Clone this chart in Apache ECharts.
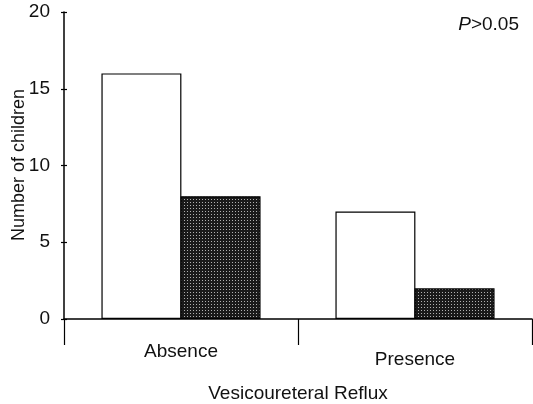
<!DOCTYPE html>
<html><head><meta charset="utf-8">
<script src="https://cdn.jsdelivr.net/npm/echarts@6/dist/echarts.min.js"></script>
<style>html,body{margin:0;padding:0;background:#fff}#c{width:533px;height:404px}</style>
</head><body><div id="c"></div>
<script>
var categories = ['Absence', 'Presence'];
var whiteValues = [16, 7];
var darkValues = [8, 2];
var yTicks = [0, 5, 10, 15, 20];
var yAxisTitle = 'Number of children';

// dotted dark pattern
var pc = document.createElement('canvas');
pc.width = 3; pc.height = 3;
var pctx = pc.getContext('2d');
pctx.fillStyle = '#1a1a1a'; pctx.fillRect(0, 0, 3, 3);
pctx.fillStyle = '#b0b0b0'; pctx.fillRect(1, 1, 1, 1);

var font = 'Liberation Sans, Arial, sans-serif';
var chart = echarts.init(document.getElementById('c'), null, {renderer: 'canvas'});
chart.setOption({
  animation: false,
  grid: {left: 64, right: 1, top: 12, bottom: 85, containLabel: false, outerBoundsMode: 'none'},
  xAxis: {
    type: 'category',
    data: [{value: categories[0]}, {value: categories[1], textStyle: {padding: [8, 0, 0, 0]}}],
    axisLine: {show: true, lineStyle: {color: '#000', width: 1.5}},
    axisTick: {show: true, interval: 0, alignWithLabel: false, length: 26, lineStyle: {color: '#000', width: 1.2}},
    axisLabel: {color: '#111', fontSize: 19, fontFamily: font, margin: 23},
    name: 'Vesicoureteral Reflux', nameLocation: 'middle', nameGap: 65,
    nameTextStyle: {color: '#111', fontSize: 19, fontFamily: font}
  },
  yAxis: [{
    type: 'value', min: yTicks[0], max: yTicks[yTicks.length - 1], interval: 5,
    axisLine: {show: true, lineStyle: {color: '#000', width: 1.5}},
    axisTick: {show: true, length: 3, lineStyle: {color: '#000', width: 1.2}},
    splitLine: {show: false},
    axisLabel: {color: '#111', fontSize: 19, fontFamily: font, margin: 14}
  }, {
    type: 'value', min: 0, max: 20, interval: 5, position: 'left',
    axisLine: {show: false},
    axisTick: {show: true, inside: true, length: 3, lineStyle: {color: '#000', width: 1.2}},
    axisLabel: {show: false}, splitLine: {show: false}
  }],
  series: [{
    type: 'bar', data: whiteValues, barGap: '-1%', barCategoryGap: '32%',
    itemStyle: {color: '#fff', borderColor: '#000', borderWidth: 1.2}
  }, {
    type: 'bar', data: darkValues,
    itemStyle: {color: {image: pc, repeat: 'repeat'}, borderColor: '#000', borderWidth: 1.2}
  }],
  graphic: [{
    type: 'text', right: 14, top: 15,
    style: {
      text: '{i|P}>0.05',
      rich: {i: {fontStyle: 'italic', fontSize: 19, fontFamily: font, fill: '#111'}},
      fontSize: 19, fontFamily: font, fill: '#111'
    }
  }, {
    type: 'text', x: 19, y: 165, rotation: Math.PI / 2,
    style: {
      text: yAxisTitle, fontSize: 18, fontFamily: font, fill: '#111',
      align: 'center', verticalAlign: 'middle'
    }
  }]
});
</script></body></html>
